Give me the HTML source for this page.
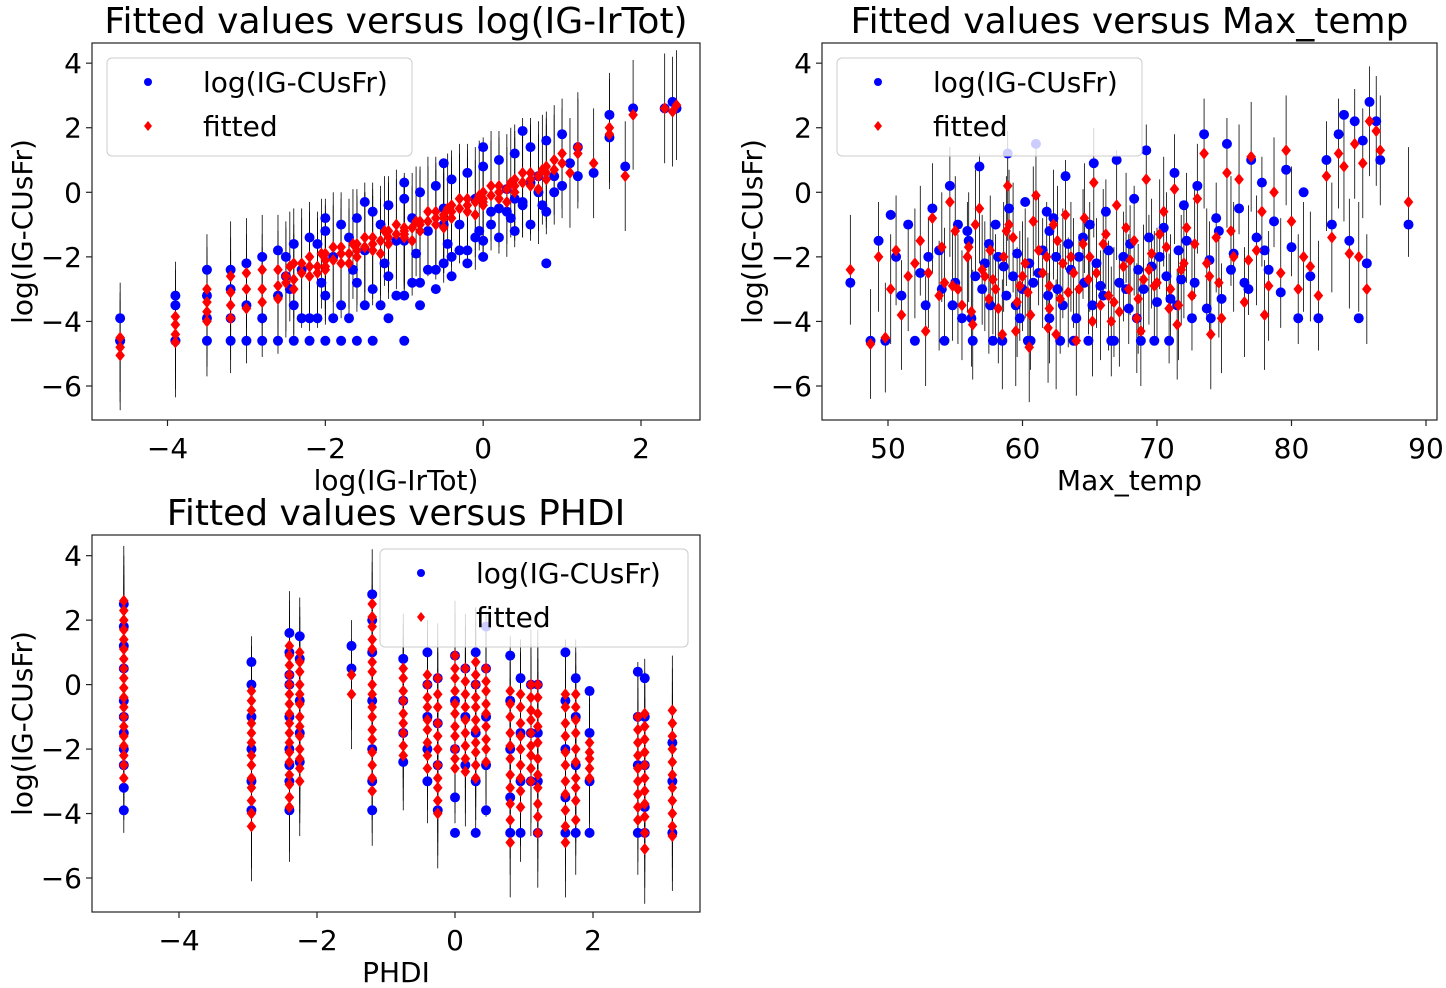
<!DOCTYPE html>
<html><head><meta charset="utf-8"><style>
html,body{margin:0;padding:0;background:#fff;}
svg{display:block;font-family:"DejaVu Sans","Liberation Sans",sans-serif;}
</style></head><body>
<svg id="fig" width="1446" height="988" viewBox="0 0 1446 988" xmlns="http://www.w3.org/2000/svg"></svg>
<script>
// ---------- Panel 1 data: log(IG-IrTot) ----------
const p1x   = [-4.6,-4.6,-4.6,-3.9,-3.9,-3.9,-3.9,-3.5,-3.5,-3.5,-3.5,-3.2,-3.2,-3.2,-3.2,-3.0,-3.0,-3.0,-2.8,-2.8,-2.8,-2.6,-2.6,-2.6,-2.4,-2.4,-2.4,-2.2,-2.2,-2.2,-2.0,-2.0,-2.0,-1.8,-1.8,-1.8,-1.6,-1.6,-1.6,-1.4,-1.4,-1.4,-1.2,-1.2,-1.2,-1.0,-1.0,-1.0,-0.8,-0.8,-0.8,-0.6,-0.6,-0.6,-0.4,-0.4,-0.4,-0.2,-0.2,-0.2,0.0,0.0,0.0,0.2,0.2,0.2,0.4,0.4,0.4,0.6,0.6,0.6,0.8,0.8,0.8,1.0,1.0,1.2,1.2,1.4,1.6,1.6,1.8,1.9,2.3,2.4,2.45,-2.3,-2.1,-1.9,-1.7,-1.5,-1.3,-1.1,-0.9,-0.7,-0.5,-0.3,-0.1,0.1,0.3,0.5,0.7,0.9,-2.5,-1.0,-0.5,
  -2.5,-2.3,-2.1,-1.9,-1.7,-1.5,-1.3,-1.1,-0.9,-0.7,-0.5,-0.3,-0.1,0.1,0.3,0.5,0.7,0.9,1.1,-2.45,-2.05,-1.65,-1.25,-0.85,-0.45,-0.05,0.35,0.75,-1.5,-1.0,-0.5,0.0,0.5,-2.0];
const p1obs = [-3.9,-4.6,-4.6,-3.2,-3.5,-4.6,-4.6,-2.4,-3.2,-4.6,-3.9,-2.4,-3.0,-4.6,-3.9,-2.2,-4.6,-3.5,-2.0,-4.6,-3.9,-1.8,-4.6,-3.2,-1.6,-4.6,-3.5,-1.4,-4.6,-3.9,-1.2,-4.6,-3.2,-1.0,-4.6,-3.5,-0.8,-4.6,-2.8,-0.6,-4.6,-3.0,-0.4,-3.9,-2.6,-0.2,-4.6,-3.2,0.0,-2.8,-3.5,0.2,-2.4,-3.0,0.4,-2.6,-2.0,0.6,-2.2,-1.8,0.8,-2.0,-1.5,1.0,-1.4,-0.5,1.2,-1.2,-0.2,1.4,-1.0,0.3,1.6,-0.6,-2.2,1.8,0.2,1.4,0.5,0.6,2.4,1.7,0.8,2.6,2.6,2.8,2.6,-3.9,-3.9,-3.9,-3.9,-3.5,-3.5,-3.2,-2.8,-2.4,-2.2,-1.8,-1.4,-1.0,-0.6,-0.4,0.0,0.5,-2.6,-1.5,-1.0,
  -2.0,-2.4,-1.6,-2.0,-1.4,-1.8,-1.0,-1.5,-0.8,-1.2,-0.5,-1.0,-0.2,-0.6,0.1,-0.3,0.5,0.0,0.9,-3.0,-2.8,-2.4,-2.2,-1.9,-1.6,-1.2,-0.8,-0.4,-0.3,0.3,0.9,1.4,1.9,-0.8];
const p1fit = [-4.5,-4.8,-5.05,-3.85,-4.1,-4.4,-4.65,-3.0,-3.4,-3.7,-4.0,-2.6,-3.1,-3.5,-3.9,-2.5,-3.0,-3.6,-2.4,-3.0,-3.4,-2.4,-2.9,-3.3,-2.2,-2.7,-3.0,-2.0,-2.6,-2.3,-1.9,-2.4,-2.1,-1.7,-2.2,-1.9,-1.6,-2.0,-1.8,-1.4,-1.8,-1.6,-1.2,-1.6,-1.4,-1.1,-1.4,-1.2,-0.9,-1.2,-1.0,-0.8,-1.0,-0.6,-0.6,-0.8,-0.4,-0.4,-0.6,-0.2,-0.2,-0.4,0.0,0.0,-0.2,0.2,0.2,0.0,0.4,0.4,0.2,0.6,0.6,0.4,0.8,0.9,1.2,1.2,1.4,0.9,1.8,2.0,0.5,2.4,2.6,2.5,2.7,-2.5,-2.3,-2.1,-1.9,-1.7,-1.5,-1.3,-1.1,-0.9,-0.7,-0.5,-0.3,-0.1,0.1,0.3,0.5,0.7,-2.8,-1.3,-0.8,
  -2.6,-2.2,-2.5,-1.7,-2.2,-1.4,-1.9,-1.0,-1.5,-0.6,-1.1,-0.2,-0.7,0.2,-0.3,0.6,0.1,1.0,0.6,-2.3,-1.9,-1.6,-1.2,-0.9,-0.5,-0.1,0.3,0.7,-1.7,-1.3,-0.8,-0.3,0.3,-2.3];

// ---------- Panel 2 data: Max_temp ----------
const p2x   = [47.2,48.7,49.3,49.8,50.2,50.6,51.0,51.5,52.0,52.4,52.8,53.3,53.8,54.2,54.6,55.0,55.5,55.9,56.3,56.8,57.2,57.6,58.0,58.5,58.9,59.3,59.8,60.2,60.6,61.0,61.5,61.9,62.3,62.8,63.2,63.6,64.0,64.5,64.9,65.3,65.8,66.2,66.6,67.0,67.5,67.9,68.3,68.8,69.2,69.6,70.0,70.5,70.9,71.3,71.8,72.2,72.6,73.0,73.5,73.9,74.4,74.8,75.2,75.7,76.1,76.5,77.0,77.4,77.8,78.3,78.7,79.2,79.6,80.0,80.5,80.9,81.4,82.0,82.6,83.0,83.5,83.9,84.3,84.7,85.0,85.3,85.6,85.8,86.3,86.6,88.7,56.0,57.0,58.2,59.0,60.0,61.2,62.0,63.0,64.2,65.0,66.0,67.2,68.0,69.0,70.2,71.0,72.0,60.5,62.5,58.6,
  53.0,54.0,55.2,56.5,57.5,58.8,59.6,60.8,61.8,62.6,63.4,64.6,65.5,66.4,67.7,68.6,69.4,70.7,71.6,72.8,73.7,74.6,75.5,76.8,78.0,54.8,57.8,60.4,63.8,66.8,69.8,56.2,59.5,62.0,65.2,68.5,71.5,74.0];
const p2obs = [-2.8,-4.6,-1.5,-4.6,-0.7,-2.0,-3.2,-1.0,-4.6,-2.5,-3.5,-0.5,-1.8,-4.6,0.2,-2.8,-3.9,-1.2,-4.6,0.8,-2.2,-3.5,-1.0,-4.6,1.2,-2.6,-3.9,-0.3,-4.6,1.5,-1.8,-3.2,-0.8,-4.6,0.5,-2.4,-3.9,-1.4,-4.6,0.9,-2.9,-0.6,-4.6,1.0,-2.0,-3.6,-0.2,-4.6,1.3,-2.3,-3.4,-1.1,-4.6,0.6,-2.7,-1.5,-3.9,0.2,1.8,-2.1,-0.8,-3.3,1.5,-1.9,-0.5,-2.8,1.0,-1.4,0.3,-2.4,-0.9,-3.1,0.7,-1.7,-3.9,0.0,-2.6,-3.9,1.0,-1.0,1.8,2.4,-1.5,2.2,-3.9,1.6,-2.2,2.8,2.2,1.0,-1.0,-1.5,-3.0,-2.0,-0.5,-3.0,-2.5,-1.2,-3.5,-2.0,-1.0,-3.2,-2.8,-1.6,-3.0,-2.0,-3.3,-0.4,-2.2,-2.0,-2.3,
  -2.0,-3.0,-1.0,-2.6,-1.6,-3.2,-1.9,-2.8,-0.6,-3.0,-1.6,-2.8,-2.2,-1.8,-3.0,-2.4,-1.4,-2.6,-1.8,-2.8,-3.6,-1.2,-2.4,-3.0,-1.8,-3.5,-4.6,-4.6,-4.6,-4.6,-4.6,-3.9,-3.5,-3.9,-3.5,-3.9,-3.5,-3.9];
const p2fit = [-2.4,-4.7,-2.0,-4.5,-3.0,-1.8,-3.8,-2.6,-2.2,-1.5,-4.3,-0.8,-3.2,-2.8,-0.3,-1.2,-3.5,-2.0,-4.1,-0.5,-2.6,-1.8,-3.0,-4.4,0.2,-1.4,-2.9,-2.2,-3.8,-0.1,-2.5,-4.2,-1.0,-3.3,-0.7,-2.0,-4.6,-1.6,-2.7,0.3,-3.5,-1.3,-4.0,-0.4,-2.3,-3.0,-1.5,-4.3,0.4,-1.9,-2.8,-0.6,-3.6,0.1,-2.4,-1.1,-3.2,-0.2,1.2,-2.6,-1.4,-3.9,0.6,-2.0,0.4,-3.4,1.1,-1.8,-0.6,-2.9,0.0,-2.5,1.3,-0.9,-3.0,-2.0,-2.3,-3.2,0.5,-1.4,1.2,0.8,-1.9,1.5,-2.0,0.9,-3.0,2.2,1.9,1.3,-0.3,-1.7,-2.4,-3.6,-1.0,-2.6,-1.8,-2.9,-2.2,-3.0,-2.0,-1.6,-3.7,-2.1,-2.7,-1.3,-3.0,-2.2,-4.8,-4.4,-2.0,
  -2.5,-1.7,-3.0,-1.0,-3.3,-1.2,-3.4,-0.9,-2.0,-1.5,-3.1,-0.8,-2.5,-3.2,-1.1,-3.3,-2.4,-1.7,-3.5,-1.6,-2.2,-2.8,-1.2,-2.1,-3.8,-2.9,-2.7,-3.1,-2.5,-3.4,-2.9,-3.7,-4.3,-3.6,-4.0,-3.9,-4.1,-4.4];

// ---------- Panel 3 data: PHDI (columns) ----------
const p3x = [-4.8,-2.95,-2.4,-2.25,-1.5,-1.2,-0.75,-0.4,-0.25,0.0,0.15,0.3,0.45,0.8,0.95,1.1,1.2,1.6,1.75,1.95,2.65,2.75,3.15];
const p3obs = [[2.5,1.8,1.2,0.5,-0.5,-1.0,-1.5,-2.0,-2.5,-3.2,-3.9],[0.7,0.0,-1.0,-2.0,-3.0,-3.9],[1.6,1.0,0.3,0.0,-1.0,-2.0,-2.5,-3.0,-3.9],[1.5,0.8,-0.5,-1.5,-2.4],[1.2,0.5],[2.8,2.0,1.0,-0.5,-2.0,-3.0,-3.9],[0.8,-0.5,-1.5,-2.4],[1.0,0.0,-1.0,-2.0,-3.0],[0.2,-1.2,-2.5,-3.9],[0.9,-0.5,-2.0,-3.5,-4.6],[0.5,-1.0,-2.5],[1.0,0.0,-1.5,-3.0,-4.6],[1.8,0.5,-1.0,-2.5,-3.9],[0.9,-0.5,-2.0,-3.5,-4.6],[0.2,-1.5,-3.0,-4.6],[0.0,-1.5,-3.0],[0.0,-1.5,-3.0,-4.6],[1.0,-0.5,-2.0,-3.5,-4.6],[0.2,-1.0,-2.5,-4.6],[-0.2,-1.5,-3.0,-4.6],[0.4,-1.0,-2.5,-4.6],[0.2,-1.0,-2.5,-3.8,-4.6],[-1.8,-3.0,-4.6]];
const p3fit = [[2.6,2.3,2.0,1.7,1.4,1.1,0.8,0.5,0.2,-0.1,-0.4,-0.7,-1.0,-1.3,-1.6,-1.9,-2.2,-2.5,-2.9],[-0.2,-0.5,-0.8,-1.2,-1.5,-1.8,-2.2,-2.5,-2.9,-3.2,-3.6,-4.0,-4.4],[1.2,0.9,0.6,0.3,0.0,-0.3,-0.6,-0.9,-1.2,-1.5,-1.8,-2.1,-2.4,-2.8,-3.1,-3.5,-3.8],[1.0,0.7,0.4,0.0,-0.3,-0.6,-1.0,-1.3,-1.6,-2.0,-2.3,-2.6,-3.0],[0.3,-0.3],[2.5,2.1,1.8,1.4,1.1,0.7,0.4,0.0,-0.3,-0.7,-1.0,-1.4,-1.7,-2.1,-2.5,-2.9,-3.3],[0.5,0.2,-0.2,-0.5,-0.9,-1.2,-1.5,-1.9,-2.2],[0.3,0.0,-0.4,-0.7,-1.1,-1.4,-1.8,-2.2,-2.6],[0.2,-0.3,-0.7,-1.2,-1.6,-2.0,-2.5,-2.9,-3.2,-3.6,-4.0],[0.9,0.5,0.2,-0.2,-0.6,-0.9,-1.3,-1.6,-2.0,-2.3,-2.6],[0.5,0.1,-0.3,-0.7,-1.1,-1.5,-1.9,-2.3,-2.7],[0.7,0.3,0.0,-0.4,-0.7,-1.1,-1.4,-1.8,-2.1,-2.5,-2.9],[0.5,0.1,-0.2,-0.6,-0.9,-1.3,-1.7,-2.0,-2.4],[-0.2,-0.6,-1.0,-1.5,-1.9,-2.3,-2.8,-3.2,-3.7,-4.2,-4.9],[-0.3,-0.7,-1.2,-1.6,-2.0,-2.5,-2.9,-3.3,-3.8],[0.0,-0.4,-0.8,-1.1,-1.5,-1.9,-2.2,-2.6,-3.0],[0.0,-0.4,-0.9,-1.3,-1.8,-2.3,-2.8,-3.2,-3.7,-4.1,-4.6],[-0.3,-0.7,-1.2,-1.6,-2.1,-2.5,-3.0,-3.4,-3.9,-4.4,-4.9],[-0.3,-0.7,-1.1,-1.5,-2.0,-2.4,-2.9,-3.2,-3.6,-4.2],[-1.8,-2.1,-2.3,-2.6,-2.9],[-1.0,-1.4,-1.8,-2.2,-2.6,-3.0,-3.4,-3.8,-4.2],[-0.9,-1.3,-1.7,-2.1,-2.5,-2.9,-3.3,-3.7,-4.1,-4.6,-5.1],[-0.8,-1.2,-1.6,-2.0,-2.4,-2.8,-3.2,-3.6,-4.0,-4.4,-4.7]];

const yTicks = [4,2,0,-2,-4,-6];
const x1Ticks = [-4,-2,0,2];
const x2Ticks = [50,60,70,80,90];
const x3Ticks = [-4,-2,0,2];
const ERR = 1.7;

const NS = "http://www.w3.org/2000/svg";
const svg = document.getElementById('fig');
function el(tag, attrs, parent){
  const e = document.createElementNS(NS, tag);
  for (const k in attrs) e.setAttribute(k, attrs[k]);
  (parent||svg).appendChild(e);
  return e;
}
function txt(parent, x, y, s, size, anchor, extra){
  const t = el('text', Object.assign({x:x, y:y, 'font-size':size, 'text-anchor':anchor||'middle', fill:'#000'}, extra||{}), parent);
  t.textContent = s;
  return t;
}
function makeScale(d0, p0, d1, p1){ return v => p0 + (v - d0) * (p1 - p0) / (d1 - d0); }

function panel(cfg){
  const g = el('g', {});
  
  
  const {L,R,T,B,sx,sy} = cfg;
  const title = txt(g, (L+R)/2, T-10, cfg.title, 36);
  
  
  const cid = cfg.name + '-clip';
  const cp = el('clipPath', {id: cid}, g);
  el('rect', {x:L, y:T, width:R-L, height:B-T}, cp);
  const plot = el('g', {'clip-path': 'url(#' + cid + ')'}, g);
  
  
  const errG = el('g', {stroke:'#000', 'stroke-width':0.8}, plot);
  
  
  const obsG = el('g', {fill:'#0000ff'}, plot);
  
  
  const fitG = el('g', {fill:'#ff0000'}, plot);
  
  
  cfg.points.forEach(p => {
    if (p.f === null) return;
    const ln = el('line', {x1:sx(p.x), x2:sx(p.x), y1:sy(p.f+ERR), y2:sy(p.f-ERR)}, errG);
    
    
  });
  cfg.points.forEach(p => {
    if (p.o === null) return;
    const c = el('circle', {cx:sx(p.x), cy:sy(p.o), r:5}, obsG);
    
    
  });
  cfg.points.forEach(p => {
    if (p.f === null) return;
    const X = sx(p.x), Y = sy(p.f);
    const d = el('polygon', {points: `${X},${Y-6} ${X+4.8},${Y} ${X},${Y+6} ${X-4.8},${Y}`}, fitG);
    
    
  });
  const fr = el('rect', {x:L, y:T, width:R-L, height:B-T, fill:'none', stroke:'#222', 'stroke-width':1.2}, g);
  
  
  const ya = el('g', {}, g);
  
  
  yTicks.forEach(v => {
    const y = sy(v);
    el('line', {x1:L-6, x2:L, y1:y, y2:y, stroke:'#222', 'stroke-width':1.2}, ya);
    const t = txt(ya, L-10, y+10, v < 0 ? '\u2212' + Math.abs(v) : String(v), 28, 'end');
    
    
  });
  const xa = el('g', {}, g);
  
  
  cfg.xTicks.forEach(v => {
    const x = sx(v);
    el('line', {x1:x, x2:x, y1:B, y2:B+6, stroke:'#222', 'stroke-width':1.2}, xa);
    const t = txt(xa, x, B+38, v < 0 ? '\u2212' + Math.abs(v) : String(v), 28, 'middle');
    
    
  });
  const xl = txt(g, (L+R)/2, B+70, cfg.xlabel, 28);
  
  
  const yl = txt(g, 0, 0, 'log(IG-CUsFr)', 28, 'middle', {transform:`translate(${L-60},${(T+B)/2}) rotate(-90)`});
  
  
  const lg = el('g', {}, g);
  
  
  const Lg = cfg.legend;
  el('rect', {x:Lg.x, y:Lg.y, width:Lg.w, height:98, rx:5, fill:'rgba(255,255,255,0.8)', stroke:'#ccc', 'stroke-width':1}, lg);
  const e1 = el('g', {}, lg);
  
  
  el('circle', {cx:Lg.x+41, cy:Lg.y+24, r:4, fill:'#0000ff'}, e1);
  txt(e1, Lg.x+96, Lg.y+34, 'log(IG-CUsFr)', 28, 'start');
  const e2 = el('g', {}, lg);
  
  
  const mx = Lg.x+41, my = Lg.y+68;
  el('polygon', {points:`${mx},${my-5} ${mx+4},${my} ${mx},${my+5} ${mx-4},${my}`, fill:'#ff0000'}, e2);
  txt(e2, Lg.x+96, Lg.y+78, 'fitted', 28, 'start');
}

function toPoints(xs, os, fs){ return xs.map((x,i) => ({x:x, o:os[i], f:fs[i]})); }

panel({name:'panel-irtot', title:'Fitted values versus log(IG-IrTot)', xlabel:'log(IG-IrTot)',
  L:92, R:700, T:43, B:420,
  sx: makeScale(-4, 167.5, 2, 641), sy: makeScale(0, 192.3, -6, 386),
  xTicks:x1Ticks, points: toPoints(p1x, p1obs, p1fit),
  legend:{x:107, y:58, w:305}});

panel({name:'panel-maxtemp', title:'Fitted values versus Max_temp', xlabel:'Max_temp',
  L:822, R:1437, T:43, B:420,
  sx: makeScale(50, 888, 90, 1426), sy: makeScale(0, 192.3, -6, 386),
  xTicks:x2Ticks, points: toPoints(p2x, p2obs, p2fit),
  legend:{x:837, y:58, w:305}});

const p3pts = [];
p3x.forEach((x, i) => {
  p3obs[i].forEach(o => p3pts.push({x:x, o:o, f:null}));
  p3fit[i].forEach(f => p3pts.push({x:x, o:null, f:f}));
});
panel({name:'panel-phdi', title:'Fitted values versus PHDI', xlabel:'PHDI',
  L:92, R:700, T:535, B:912,
  sx: makeScale(-4, 179, 2, 593), sy: makeScale(0, 684.6, -6, 878),
  xTicks:x3Ticks, points: p3pts,
  legend:{x:380, y:549, w:308}});
</script>
</body></html>
